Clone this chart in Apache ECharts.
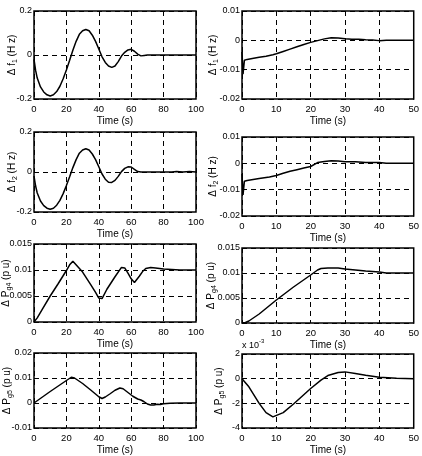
<!DOCTYPE html>
<html>
<head>
<meta charset="utf-8">
<script src="https://cdn.jsdelivr.net/npm/echarts@6/dist/echarts.min.js"></script>
<style>html,body{margin:0;padding:0;background:#fff}#c{width:422px;height:456px}</style>
</head>
<body>
<div id="c"></div>
<script>
// ---- data ----
const f1T = [0,1,2,4,6,8,10,12,14,16,18,20,22,24,26,28,30,32,34,36,38,40,42,44,46,48,50,52,54,56,58,60,62,64,66,68,70,80,90,100];
const f1V = [-0.02,-0.07,-0.105,-0.145,-0.168,-0.181,-0.186,-0.181,-0.166,-0.142,-0.108,-0.068,-0.024,0.022,0.062,0.094,0.11,0.116,0.11,0.09,0.062,0.027,-0.008,-0.034,-0.05,-0.056,-0.05,-0.03,-0.005,0.012,0.023,0.026,0.017,0.004,-0.004,-0.002,0,0,0,0];

const f2T = [0,1,2,4,6,8,10,12,14,16,18,20,22,24,26,28,30,32,34,36,38,40,42,44,46,47,48,50,52,54,56,58,59,60,62,64,66,70,85,88,92,96,100];
const f2V = [-0.02,-0.07,-0.105,-0.145,-0.168,-0.181,-0.186,-0.181,-0.166,-0.142,-0.108,-0.068,-0.024,0.022,0.062,0.094,0.11,0.116,0.11,0.09,0.062,0.026,-0.01,-0.036,-0.051,-0.053,-0.052,-0.042,-0.022,0.002,0.018,0.026,0.027,0.025,0.013,0.002,0,0,0,0.002,0,0.002,0];

const f1bT = [0,0.3,0.7,1.5,3,5,7,9,10,12,14,16,18,20,22,24,26,28,30,32,34,36,38,40,42,50];
const f1bV = [-0.004,-0.0115,-0.0068,-0.0065,-0.0062,-0.0058,-0.0054,-0.0049,-0.0046,-0.0038,-0.003,-0.0022,-0.0014,-0.0007,-0.0001,0.0005,0.0009,0.0008,0.0005,0.0004,0.0004,0.0002,0.0001,-0.0001,0,0];

const f2bT = [0,0.3,0.7,1.5,5,8,10,12,14,16,18,20,22,24,26,28,30,33,36,40,42,50];
const f2bV = [-0.004,-0.012,-0.0068,-0.0065,-0.0058,-0.0052,-0.0046,-0.0038,-0.003,-0.0024,-0.0018,-0.0012,0.0003,0.0007,0.001,0.0009,0.0006,0.0006,0.0003,0.0003,0,0];

const pg4T = [0,2,5,10,15,20,22,24,25,30,35,38,40,41,42,45,50,54,55,56,58,60,62,63,65,67,69,72,75,80,85,90,100];
const pg4V = [0,0.0008,0.0024,0.005,0.0074,0.0099,0.011,0.0117,0.0116,0.0096,0.0072,0.0057,0.0046,0.0043,0.0045,0.0063,0.0087,0.0105,0.0107,0.0104,0.0094,0.0083,0.0076,0.0078,0.0088,0.0097,0.0103,0.0105,0.0104,0.0102,0.0101,0.01,0.01];

const pg4bT = [0,1,2,5,10,15,20,22,23,25,28,30,33,36,40,42,50];
const pg4bV = [0,0.0001,0.0004,0.0018,0.0046,0.0072,0.0096,0.0106,0.0109,0.011,0.011,0.0108,0.0106,0.0104,0.0102,0.01,0.01];

const pg5T = [0,5,10,15,20,23,25,30,35,40,42,44,47,50,53,55,58,61,64,66,68,70,72,74,76,78,80,84,90,100];
const pg5V = [0,0.0023,0.0046,0.0068,0.009,0.0103,0.01,0.0078,0.0052,0.0025,0.0018,0.0024,0.0037,0.0051,0.006,0.0057,0.0042,0.0027,0.0016,0.0012,0.0005,-0.0004,-0.0008,-0.0008,-0.0005,-0.0006,-0.0003,-0.0001,0,0];

// right-bottom panel values are in units of 1e-3
const pg5bT = [0,0.5,2,5,7,9,9.5,12,15,20,23,25,28,30,33,36,40,45,50];
const pg5bV = [0,0.1,-0.66,-2.0,-2.75,-3.1,-3.2,-2.75,-2.05,-0.8,-0.12,0.25,0.5,0.55,0.42,0.27,0.12,0.03,0];

// axes ticks
const xTicksLeft = [0,20,40,60,80,100];
const xTicksRight = [0,10,20,30,40,50];
const yTicksF = [-0.2,0,0.2];
const yTicksFb = [-0.02,-0.01,0,0.01];
const yTicksPg4 = [0,0.005,0.01,0.015];
const yTicksPg5 = [-0.01,0,0.01,0.02];
const yTicksPg5b = [-4,-2,0,2];

const xName = 'Time (s)';

// ---- layout ----
const FONT = "'Liberation Sans Narrow','Arial Narrow','Liberation Sans',Arial,sans-serif";
const panels = [
  {t:f1T, v:f1V, xt:xTicksLeft, yt:yTicksF, sub:'1', base:'Δ f', unit:'(H z)', g:{left:34,top:11,width:162,height:88}, gap:15},
  {t:f1bT, v:f1bV, xt:xTicksRight, yt:yTicksFb, sub:'1', base:'Δ f', unit:'(H z)', g:{left:242,top:11,width:176,height:88}, gap:22},
  {t:f2T, v:f2V, xt:xTicksLeft, yt:yTicksF, sub:'2', base:'Δ f', unit:'(H z)', g:{left:34,top:132,width:162,height:80}, gap:15},
  {t:f2bT, v:f2bV, xt:xTicksRight, yt:yTicksFb, sub:'2', base:'Δ f', unit:'(H z)', g:{left:242,top:137,width:176,height:79}, gap:22},
  {t:pg4T, v:pg4V, xt:xTicksLeft, yt:yTicksPg4, sub:'g4', base:'Δ P', unit:'(p u)', g:{left:34,top:244,width:162,height:78}, gap:21},
  {t:pg4bT, v:pg4bV, xt:xTicksRight, yt:yTicksPg4, sub:'g4', base:'Δ P', unit:'(p u)', g:{left:242,top:248,width:176,height:75}, gap:24},
  {t:pg5T, v:pg5V, xt:xTicksLeft, yt:yTicksPg5, sub:'g5', base:'Δ P', unit:'(p u)', g:{left:34,top:353,width:162,height:81}, gap:20},
  {t:pg5bT, v:pg5bV, xt:xTicksRight, yt:yTicksPg5b, sub:'g5', base:'Δ P', unit:'(p u)', g:{left:242,top:354,width:176,height:81}, gap:16}
];

const fmt = v => String(+v.toFixed(4));
const dash = {type:[5,4], color:'#000', width:1};
const grids = [], xAxes = [], yAxes = [], series = [];
panels.forEach((p, i) => {
  grids.push(Object.assign({show:true, borderColor:'#000', borderWidth:1.5, backgroundColor:'transparent'}, p.g));
  const xi = p.xt[1] - p.xt[0], yi = p.yt[1] - p.yt[0];
  xAxes.push({
    type:'value', gridIndex:i, min:p.xt[0], max:p.xt[p.xt.length-1], interval:xi,
    axisLine:{show:false}, axisTick:{show:false},
    splitLine:{show:true, lineStyle:dash},
    axisLabel:{color:'#000', fontFamily:FONT, fontSize:9.5, margin:5, formatter:fmt},
    name:xName, nameLocation:'middle', nameGap:17, nameMoveOverlap:false,
    nameTextStyle:{color:'#000', fontFamily:FONT, fontSize:10}
  });
  yAxes.push({
    type:'value', gridIndex:i, min:p.yt[0], max:p.yt[p.yt.length-1], interval:yi,
    axisLine:{show:false}, axisTick:{show:false},
    splitLine:{show:true, lineStyle:dash},
    axisLabel:{color:'#000', fontFamily:FONT, fontSize:9, margin:2, formatter:fmt},
    name:'{a|' + p.base + '}{s|' + p.sub + '}{a| ' + p.unit + '}',
    nameLocation:'middle', nameRotate:90, nameGap:p.gap, nameMoveOverlap:false,
    nameTextStyle:{
      color:'#000', fontFamily:FONT, fontSize:10,
      rich:{
        a:{color:'#000', fontFamily:FONT, fontSize:10, lineHeight:14, verticalAlign:'middle'},
        s:{color:'#000', fontFamily:FONT, fontSize:7, lineHeight:7, verticalAlign:'bottom'}
      }
    }
  });
  series.push({
    type:'line', xAxisIndex:i, yAxisIndex:i, showSymbol:false, symbol:'none',
    lineStyle:{color:'#000', width:1.5}, animation:false,
    data:p.t.map((t, k) => [t, p.v[k]])
  });
});

const chart = echarts.init(document.getElementById('c'), null, {renderer:'canvas'});
chart.setOption({
  animation:false,
  backgroundColor:'#fff',
  grid:grids, xAxis:xAxes, yAxis:yAxes, series:series,
  graphic:[{
    type:'text', left:242, top:338,
    style:{
      text:'{a|x 10}{s|-3}',
      rich:{
        a:{fill:'#000', fontFamily:FONT, fontSize:9, lineHeight:12, verticalAlign:'bottom'},
        s:{fill:'#000', fontFamily:FONT, fontSize:6, lineHeight:6, verticalAlign:'top'}
      }
    }
  }]
});
</script>
</body>
</html>
